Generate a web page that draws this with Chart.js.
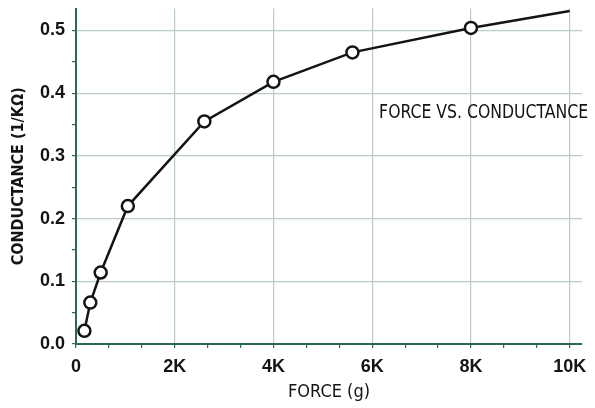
<!DOCTYPE html>
<html>
<head>
<meta charset="utf-8">
<script src="https://cdn.jsdelivr.net/npm/chart.js@4"></script>
<style>
  html, body { margin: 0; padding: 0; background: #fff; }
  #wrap { width: 595px; height: 408px; position: relative; }
</style>
</head>
<body>
<div id="wrap"><canvas id="chart"></canvas></div>
<script>
// Force (g) vs conductance (1/kOhm)
const forceGrams = [170, 290, 500, 1050, 2600, 4000, 5600, 8000, 10000];
const conductance = [0.021, 0.066, 0.114, 0.220, 0.355, 0.418, 0.465, 0.504, 0.531];
// last point has no marker
const markerShown = [true, true, true, true, true, true, true, true, false];

const xMajorTicks = [0, 2000, 4000, 6000, 8000, 10000];
const xTickLabels = ['0', '2K', '4K', '6K', '8K', '10K'];
const yTickLabels = ['0.0', '0.1', '0.2', '0.3', '0.4', '0.5'];

const COND = "'DejaVu Sans Condensed', sans-serif";
const TICKFONT = "'Liberation Sans', Arial, sans-serif";
const GRID = '#bccbc3';
const AXIS = '#2d6a4d';
const INK = '#141414';

const isMajor = (v, step) => Math.abs(v / step - Math.round(v / step)) < 1e-6;

const noteLabel = {
  id: 'noteLabel',
  afterDraw(chart) {
    const { ctx, scales } = chart;
    const text = 'FORCE VS. CONDUCTANCE';
    ctx.save();
    ctx.font = '19px ' + COND;
    ctx.fillStyle = INK;
    ctx.textBaseline = 'middle';
    ctx.textAlign = 'left';
    const w = ctx.measureText(text).width;
    ctx.translate(scales.x.getPixelForValue(6140), scales.y.getPixelForValue(0.368));
    ctx.scale(209 / w, 1);
    ctx.fillText(text, 0, 0);
    ctx.restore();
  },
};

new Chart(document.getElementById('chart'), {
  type: 'line',
  data: {
    datasets: [{
      data: forceGrams.map((f, i) => ({ x: f, y: conductance[i] })),
      borderColor: INK,
      borderWidth: 2.5,
      tension: 0,
      pointRadius: markerShown.map(s => s ? 6 : 0),
      pointBackgroundColor: '#fff',
      pointBorderColor: INK,
      pointBorderWidth: 2.5,
    }],
  },
  options: {
    responsive: true,
    maintainAspectRatio: false,
    animation: false,
    layout: { padding: { top: 2, right: 13, left: 0, bottom: 0 } },
    plugins: { legend: { display: false }, tooltip: { enabled: false } },
    scales: {
      x: {
        type: 'linear',
        min: 0,
        max: 10250,
        afterBuildTicks(scale) {
          const ticks = [];
          for (let i = 0; i <= 15; i++) ticks.push({ value: (i * 2000) / 3 });
          scale.ticks = ticks;
        },
        afterFit(scale) {
          scale.height = 64;
          scale.paddingLeft = 0;
          scale.paddingRight = 0;
        },
        ticks: {
          autoSkip: false,
          maxRotation: 0,
          padding: 8,
          color: INK,
          font: { family: TICKFONT, size: 18, weight: 'bold' },
          callback: v => {
            const i = xMajorTicks.findIndex(t => Math.abs(t - v) < 1e-6);
            return i >= 0 ? xTickLabels[i] : '';
          },
        },
        grid: {
          color: c => (c.tick && isMajor(c.tick.value, 2000) && c.tick.value > 0) ? GRID : 'transparent',
          lineWidth: 1.2,
          tickColor: AXIS,
          tickLength: 4,
        },
        border: { color: AXIS, width: 2 },
        title: {
          display: true,
          text: 'FORCE (g)',
          color: INK,
          font: { family: COND, size: 18 },
          padding: { top: 0, bottom: 5 },
        },
      },
      y: {
        min: 0,
        max: 0.535,
        afterBuildTicks(scale) {
          const ticks = [];
          for (let i = 0; i <= 10; i++) ticks.push({ value: i * 0.05 });
          scale.ticks = ticks;
        },
        afterFit(scale) {
          scale.width = 76;
          scale.paddingTop = 0;
          scale.paddingBottom = 0;
        },
        ticks: {
          autoSkip: false,
          padding: 7,
          color: INK,
          font: { family: TICKFONT, size: 18, weight: 'bold' },
          callback: v => isMajor(v, 0.1) ? yTickLabels[Math.round(v * 10)] : '',
        },
        grid: {
          color: c => (c.tick && isMajor(c.tick.value, 0.1) && c.tick.value > 0) ? GRID : 'transparent',
          lineWidth: 1.2,
          tickColor: AXIS,
          tickLength: 4,
        },
        border: { color: AXIS, width: 2 },
        title: {
          display: true,
          text: 'CONDUCTANCE (1/KΩ)',
          color: INK,
          font: { family: COND, size: 16, weight: 'bold' },
          padding: { top: 9, bottom: 0 },
        },
      },
    },
  },
  plugins: [noteLabel],
});
</script>
</body>
</html>
